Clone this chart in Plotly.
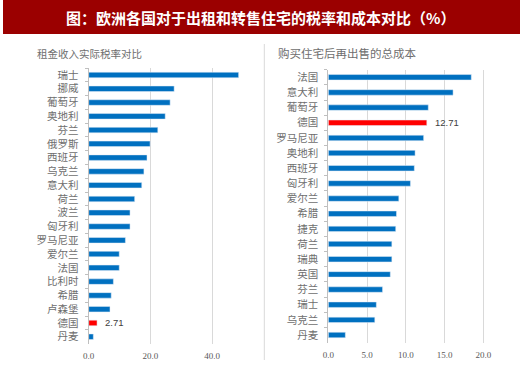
import plotly.graph_objects as go

title_text = "图：欧洲各国对于出租和转售住宅的税率和成本对比（%）"
left_title = "租金收入实际税率对比"
right_title = "购买住宅后再出售的总成本"

left_countries = ["瑞士", "挪威", "葡萄牙", "奥地利", "芬兰", "俄罗斯", "西班牙", "乌克兰", "意大利", "荷兰",
                  "波兰", "匈牙利", "罗马尼亚", "爱尔兰", "法国", "比利时", "希腊", "卢森堡", "德国", "丹麦"]
left_values = [48.6, 27.7, 26.4, 24.8, 22.4, 19.9, 18.9, 17.9, 17.2, 14.9,
               13.4, 13.4, 11.9, 9.9, 9.9, 8.0, 7.3, 6.9, 2.71, 1.5]

right_countries = ["法国", "意大利", "葡萄牙", "德国", "罗马尼亚", "奥地利", "西班牙", "匈牙利", "爱尔兰",
                   "希腊", "捷克", "荷兰", "瑞典", "英国", "芬兰", "瑞士", "乌克兰", "丹麦"]
right_values = [18.45, 16.1, 12.9, 12.71, 12.3, 11.2, 11.1, 10.6, 9.1,
                8.8, 8.7, 8.2, 8.2, 8.0, 7.0, 6.2, 6.0, 2.2]

left_ticks = [0, 20, 40]
right_ticks = [0, 5, 10, 15, 20]
highlight = "德国"

BLUE = "#0070C0"
RED = "#FF0000"
GREY_TXT = "#6e6e6e"
CJK = "Noto Sans CJK SC"
SERIF = "Liberation Serif"

W, H = 520, 369

def px_x(p):
    return p / W

def px_y(p):
    return 1 - p / H

fig = go.Figure()

fig.add_trace(go.Bar(
    x=left_values, y=left_countries, orientation="h",
    marker_color=[RED if c == highlight else BLUE for c in left_countries],
    width=0.4, xaxis="x", yaxis="y", hoverinfo="skip", showlegend=False,
))
fig.add_trace(go.Bar(
    x=right_values, y=right_countries, orientation="h",
    marker_color=[RED if c == highlight else BLUE for c in right_countries],
    width=0.36, xaxis="x2", yaxis="y2", hoverinfo="skip", showlegend=False,
))

# value labels for highlighted bars
for xa, ya, cats, vals in (("x", "y", left_countries, left_values),
                           ("x2", "y2", right_countries, right_values)):
    i = cats.index(highlight)
    fig.add_annotation(x=vals[i], y=cats[i], xref=xa, yref=ya, text=f"{vals[i]:.2f}",
                       showarrow=False, xanchor="left", xshift=6,
                       font=dict(family="Liberation Sans", size=9.5, color="#404040"))

axis_common = dict(showgrid=True, gridcolor="#d9d9d9", gridwidth=1, zeroline=False,
                   showline=False, tickformat=".1f", ticklabelstandoff=5, automargin=False,
                   tickfont=dict(family=SERIF, size=9, color="#595959"), fixedrange=True)
yaxis_common = dict(autorange="reversed", showgrid=False, showline=True, linecolor="#bfbfbf",
                    linewidth=1, ticks="outside", ticklen=3, tickcolor="#bfbfbf",
                    tickson="boundaries", ticklabelstandoff=7, automargin=False,
                    tickfont=dict(family=CJK, size=10.5, color=GREY_TXT), fixedrange=True)

# left: 0 at 88.7px, 3.085 px/unit
lx0 = 88.7
lr = 52
fig.update_layout(
    xaxis=dict(domain=[px_x(lx0), px_x(lx0 + lr * 3.085)], range=[0, lr],
               tickvals=left_ticks, anchor="y", **axis_common),
    yaxis=dict(domain=[px_y(343.6), px_y(68.1)], anchor="x", **yaxis_common),
)
rx0 = 328.3
rr = 23
fig.update_layout(
    xaxis2=dict(domain=[px_x(rx0), px_x(rx0 + rr * 7.75)], range=[0, rr],
                tickvals=right_ticks, anchor="y2", **axis_common),
    yaxis2=dict(domain=[px_y(342.6), px_y(69.7)], anchor="x2", **yaxis_common),
)

fig.update_layout(
    width=W, height=H, margin=dict(l=0, r=0, t=0, b=0),
    paper_bgcolor="white", plot_bgcolor="white", bargap=0.6,
    shapes=[
        dict(type="rect", xref="paper", yref="paper", x0=px_x(3), x1=1, y0=px_y(34), y1=1,
             fillcolor="#9B0000", line=dict(width=0), layer="below"),
        dict(type="line", xref="paper", yref="paper", x0=px_x(264.3), x1=px_x(264.3),
             y0=px_y(360), y1=px_y(44), line=dict(color="#d9d9d9", width=1)),
    ],
    annotations=list(fig.layout.annotations) + [
        dict(text=f"<b>{title_text}</b>", xref="paper", yref="paper", x=px_x(260), y=px_y(17),
             xanchor="center", yanchor="middle", showarrow=False,
             font=dict(family=CJK, size=15, color="white")),
        dict(text=left_title, xref="paper", yref="paper", x=px_x(35), y=px_y(53),
             xanchor="left", yanchor="middle", showarrow=False,
             font=dict(family=CJK, size=10.5, color=GREY_TXT)),
        dict(text=right_title, xref="paper", yref="paper", x=px_x(276), y=px_y(53),
             xanchor="left", yanchor="middle", showarrow=False,
             font=dict(family=CJK, size=11.5, color=GREY_TXT)),
    ],
)

fig.write_html("out.html", config={"displayModeBar": False},
               post_script="document.body.style.margin='0';document.body.style.overflow='hidden';")
